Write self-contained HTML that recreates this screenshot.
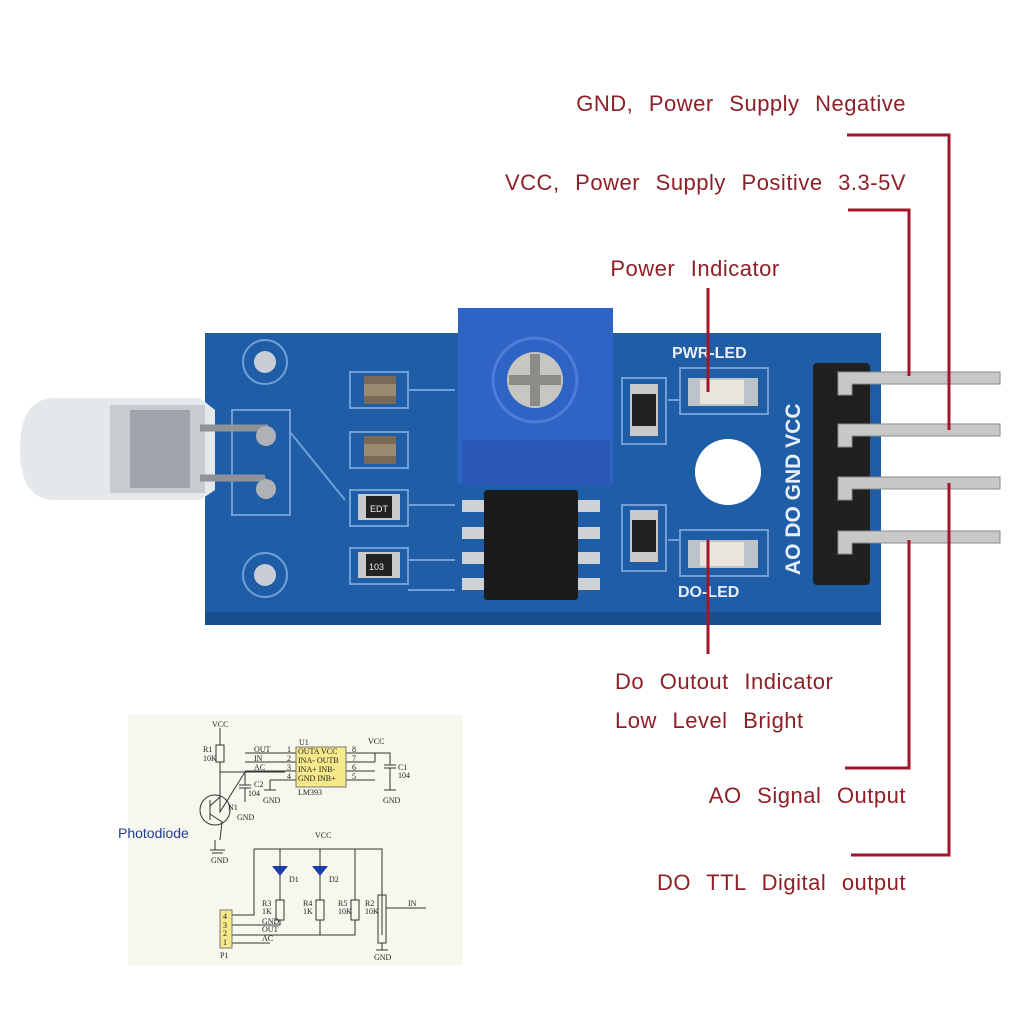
<!DOCTYPE html>
<html><head><meta charset="utf-8"><style>
html,body{margin:0;padding:0;background:#fff;}
svg{display:block}
.lab{font-family:"Liberation Sans",sans-serif;font-size:22px;fill:#8e1f27;word-spacing:9px;letter-spacing:0.5px}
.sch{font-family:"Liberation Serif",serif;font-size:8px;fill:#222}
.silk{font-family:"Liberation Sans",sans-serif;font-weight:bold;fill:#e8eef8}
</style></head><body>
<svg width="1024" height="1024" viewBox="0 0 1024 1024" xmlns="http://www.w3.org/2000/svg">
<rect width="1024" height="1024" fill="#fff"/>
<!-- labels -->
<text class="lab" x="906" y="111" text-anchor="end">GND, Power Supply Negative</text>
<text class="lab" x="906" y="190" text-anchor="end">VCC, Power Supply Positive 3.3-5V</text>
<text class="lab" x="695" y="276" text-anchor="middle">Power Indicator</text>
<text class="lab" x="615" y="689">Do Outout Indicator</text>
<text class="lab" x="615" y="728">Low Level Bright</text>
<text class="lab" x="906" y="803" text-anchor="end">AO Signal Output</text>
<text class="lab" x="906" y="890" text-anchor="end">DO TTL Digital output</text>

<!-- board -->
<rect x="205" y="333" width="676" height="292" fill="#1f5da6"/>
<rect x="205" y="612" width="676" height="13" fill="#184e8e"/>
<g fill="none" stroke="#6f9fd6" stroke-width="2">
<circle cx="265" cy="362" r="22"/><circle cx="265" cy="575" r="22"/>
<rect x="232" y="410" width="58" height="105"/>
<rect x="350" y="372" width="58" height="36"/>
<rect x="350" y="432" width="58" height="36"/>
<rect x="350" y="490" width="58" height="36"/>
<rect x="350" y="548" width="58" height="36"/>
<rect x="622" y="378" width="44" height="66"/>
<rect x="622" y="505" width="44" height="66"/>
<rect x="680" y="368" width="88" height="46"/>
<rect x="680" y="530" width="88" height="46"/>
<path d="M290 432 L345 500 M408 390 L455 390 M408 505 L455 505 M408 560 L455 560 M408 590 L455 590 M668 400 L680 400 M668 540 L680 540"/>
</g>
<circle cx="265" cy="362" r="11" fill="#c9ced6"/><circle cx="265" cy="575" r="11" fill="#c9ced6"/>
<circle cx="728" cy="472" r="33" fill="#fff"/>
<g>
<rect x="364" y="376" width="32" height="28" fill="#7a6a55"/><rect x="364" y="384" width="32" height="12" fill="#9c8a70"/>
<rect x="364" y="436" width="32" height="28" fill="#7a6a55"/><rect x="364" y="444" width="32" height="12" fill="#9c8a70"/>
<rect x="358" y="494" width="42" height="26" fill="#c9c9c9"/><rect x="366" y="496" width="26" height="22" fill="#222"/>
<text x="370" y="512" font-size="9" fill="#eee" font-family="Liberation Sans">EDT</text>
<rect x="358" y="552" width="42" height="26" fill="#c9c9c9"/><rect x="366" y="554" width="26" height="22" fill="#222"/>
<text x="369" y="570" font-size="9" fill="#eee" font-family="Liberation Sans">103</text>
<rect x="630" y="384" width="28" height="52" fill="#c9c9c9"/><rect x="632" y="394" width="24" height="32" fill="#222"/>
<rect x="630" y="510" width="28" height="52" fill="#c9c9c9"/><rect x="632" y="520" width="24" height="32" fill="#222"/>
<rect x="688" y="378" width="70" height="28" fill="#bcc3c9"/><rect x="700" y="380" width="44" height="24" fill="#e9e5dc"/>
<rect x="688" y="540" width="70" height="28" fill="#bcc3c9"/><rect x="700" y="542" width="44" height="24" fill="#e9e5dc"/>
</g>
<text class="silk" x="672" y="358" font-size="16">PWR-LED</text>
<text class="silk" x="678" y="597" font-size="16">DO-LED</text>
<text class="silk" font-size="21" transform="translate(800,575) rotate(-90)">AO  DO GND VCC</text>
<g fill="#cfd2d4">
<rect x="462" y="500" width="26" height="12"/><rect x="462" y="527" width="26" height="12"/><rect x="462" y="552" width="26" height="12"/><rect x="462" y="578" width="26" height="12"/>
<rect x="574" y="500" width="26" height="12"/><rect x="574" y="527" width="26" height="12"/><rect x="574" y="552" width="26" height="12"/><rect x="574" y="578" width="26" height="12"/>
</g>
<rect x="484" y="490" width="94" height="110" rx="3" fill="#1b1b1d"/>
<rect x="458" y="308" width="155" height="175" fill="#2f63c6"/>
<rect x="462" y="440" width="148" height="45" fill="#2a58b6"/>
<circle cx="535" cy="380" r="42" fill="#2f63c6" stroke="#4c7ed8" stroke-width="3"/>
<circle cx="535" cy="380" r="28" fill="#c8c6c0"/>
<rect x="530" y="354" width="10" height="52" fill="#8d8b86"/><rect x="509" y="375" width="52" height="10" fill="#8d8b86"/>
<path d="M55 398 L200 398 L215 410 L215 490 L200 500 L55 500 Q20 500 20 449 Q20 398 55 398Z" fill="#e5e8ea"/>
<rect x="110" y="405" width="95" height="88" fill="#c8ccd0"/>
<rect x="130" y="410" width="60" height="78" fill="#9ea4aa"/>
<path d="M200 428 L265 428 L268 440" stroke="#8f9296" stroke-width="7" fill="none"/>
<path d="M200 478 L262 478 L265 492" stroke="#8f9296" stroke-width="7" fill="none"/>
<circle cx="266" cy="436" r="10" fill="#aeb2b6"/><circle cx="266" cy="489" r="10" fill="#aeb2b6"/>
<rect x="813" y="363" width="57" height="222" rx="4" fill="#202020"/>
<g fill="#c8c8c8" stroke="#8a8a8a" stroke-width="1">
<path d="M838 372 L1000 372 L1000 384 L852 384 L852 395 L838 395Z"/>
<path d="M838 424 L1000 424 L1000 436 L852 436 L852 447 L838 447Z"/>
<path d="M838 477 L1000 477 L1000 489 L852 489 L852 500 L838 500Z"/>
<path d="M838 531 L1000 531 L1000 543 L852 543 L852 554 L838 554Z"/>
</g>
<g stroke="#a3162a" stroke-width="3" fill="none">
<path d="M847 135 L949 135 L949 430"/>
<path d="M949 483 L949 855 L851 855"/>
<path d="M848 210 L909 210 L909 376"/>
<path d="M909 540 L909 768 L845 768"/>
<path d="M708 288 L708 392"/>
<path d="M708 540 L708 654"/>
</g>

<rect x="128" y="715" width="335" height="250" fill="#f8f7ee"/>
<g stroke="#333" stroke-width="1" fill="none">
<path d="M220 728 L220 745 M220 762 L220 812 L245 772 M220 772 L285 772 M245 772 L245 785 M239 785 L251 785 M239 788 L251 788 M245 788 L245 802"/>
<rect x="216" y="745" width="8" height="17"/>
<circle cx="215" cy="810" r="15"/>
<path d="M210 800 L210 820 M210 806 L220 797 M210 814 L222 822 L220 840 M215 840 L215 850 M210 850 L225 850 M212 853 L223 853"/>
<path d="M245 753 L300 753 M245 762 L300 762 M245 771 L300 771 M270 780 L300 780 M270 780 L270 790 M264 790 L276 790"/>
<path d="M346 753 L375 753 L375 762 M346 762 L375 762 M346 771 L375 771 M346 780 L375 780 M375 753 L390 753 L390 765 M384 765 L396 765 M384 768 L396 768 M390 768 L390 790 M384 790 L396 790"/>
<path d="M254 849 L382 849 L382 935 M254 849 L254 915 L228 915 M280 849 L280 900 M320 849 L320 900 M355 849 L355 900 M320 920 L320 935 L355 935 L355 920 M228 935 L355 935 M228 925 L280 925 L280 920 M228 943 L270 943 M382 943 L382 950 M376 950 L388 950 M426 908 L386 908"/>
<rect x="276" y="900" width="8" height="20"/><rect x="316" y="900" width="8" height="20"/><rect x="351" y="900" width="8" height="20"/><rect x="378" y="895" width="8" height="48"/>
</g>
<rect x="296" y="747" width="50" height="40" fill="#f5e98a" stroke="#777"/>
<rect x="220" y="910" width="12" height="38" fill="#f5e98a" stroke="#777"/>
<path d="M272 866 L288 866 L280 876Z M312 866 L328 866 L320 876Z" fill="#1c3fb0"/>
<g class="sch">
<text x="212" y="727">VCC</text><text x="203" y="752">R1</text><text x="203" y="761">10K</text>
<text x="254" y="752">OUT</text><text x="254" y="761">IN</text><text x="254" y="770">AC</text>
<text x="287" y="752">1</text><text x="287" y="761">2</text><text x="287" y="770">3</text><text x="287" y="779">4</text>
<text x="298" y="754">OUTA VCC</text><text x="298" y="763">INA- OUTB</text><text x="298" y="772">INA+ INB-</text><text x="298" y="781">GND INB+</text>
<text x="299" y="745">U1</text><text x="298" y="795">LM393</text><text x="368" y="744">VCC</text>
<text x="352" y="752">8</text><text x="352" y="761">7</text><text x="352" y="770">6</text><text x="352" y="779">5</text>
<text x="398" y="770">C1</text><text x="398" y="778">104</text><text x="254" y="787">C2</text><text x="248" y="796">104</text>
<text x="263" y="803">GND</text><text x="237" y="820">GND</text><text x="383" y="803">GND</text><text x="228" y="810">N1</text>
<text x="211" y="863">GND</text><text x="315" y="838">VCC</text><text x="289" y="882">D1</text><text x="329" y="882">D2</text>
<text x="262" y="906">R3</text><text x="262" y="914">1K</text><text x="303" y="906">R4</text><text x="303" y="914">1K</text>
<text x="338" y="906">R5</text><text x="338" y="914">10K</text><text x="365" y="906">R2</text><text x="365" y="914">10K</text>
<text x="408" y="906">IN</text><text x="262" y="924">GND</text><text x="262" y="932">OUT</text><text x="262" y="941">AC</text>
<text x="223" y="919">4</text><text x="223" y="928">3</text><text x="223" y="936">2</text><text x="223" y="945">1</text>
<text x="220" y="958">P1</text><text x="374" y="960">GND</text>
</g>
<text x="118" y="838" font-family="Liberation Sans,sans-serif" font-size="14" fill="#1f3f8f">Photodiode</text>
</svg>
</body></html>
